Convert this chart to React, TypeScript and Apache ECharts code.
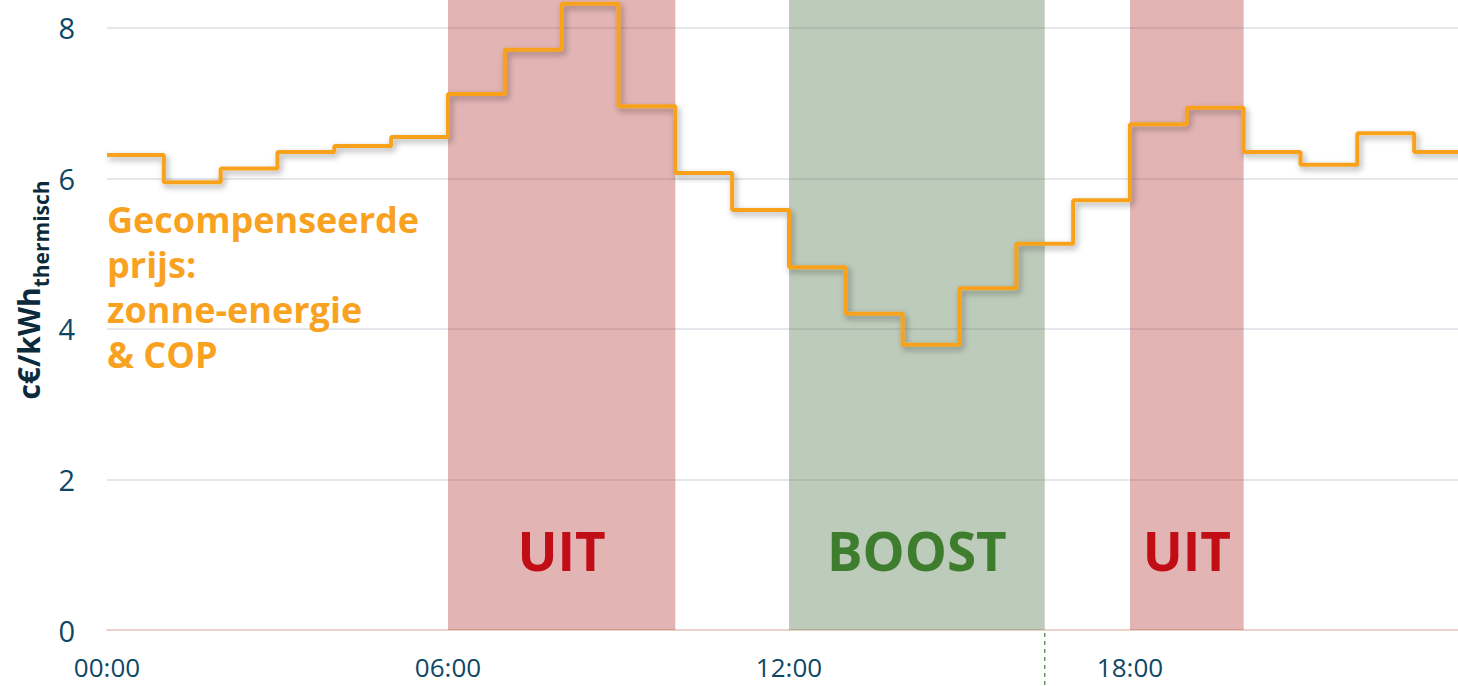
import React, { useEffect, useRef } from "react";
import * as echarts from "echarts";

const hours = [0, 1, 2, 3, 4, 5, 6, 7, 8, 9, 10, 11, 12, 13, 14, 15, 16, 17, 18, 19, 20, 21, 22, 23, 24];
const prices = [6.31, 5.95, 6.13, 6.35, 6.43, 6.55, 7.12, 7.71, 8.32, 6.96, 6.07, 5.58, 4.82, 4.2, 3.79, 4.54, 5.13, 5.71, 6.72, 6.94, 6.35, 6.18, 6.6, 6.35, 6.35];
const xTickLabels: Record<number, string> = { 0: "00:00", 6: "06:00", 12: "12:00", 18: "18:00" };
const yMin = 0;
const yMax = 8.37;
const yInterval = 2;
const uitBands = [
  [6, 10],
  [18, 20],
];
const boostBand = [12, 16.5];
const boostMarker = 16.5;
const seriesLabel = "Gecompenseerde\nprijs:\nzonne-energie\n& COP";
const yAxisUnit = "c€/kWh";
const yAxisSub = "thermisch";

const ORANGE = "#f8a21f";
const NAVY = "#0e4766";

export default function App() {
  const ref = useRef<HTMLDivElement>(null);
  useEffect(() => {
    if (!ref.current) return;
    const chart = echarts.init(ref.current, null, { renderer: "svg" });
    const markAreaData: any[] = [];
    uitBands.forEach((b) => {
      markAreaData.push([
        {
          xAxis: b[0],
          yAxis: yMin,
          itemStyle: { color: "rgba(180,51,51,0.37)" },
          label: { show: true, formatter: "UIT", color: "#c00d16" },
        },
        { xAxis: b[1], yAxis: yMax },
      ]);
    });
    markAreaData.push([
      {
        xAxis: boostBand[0],
        yAxis: yMin,
        itemStyle: { color: "rgba(90,125,83,0.4)" },
        label: { show: true, formatter: "BOOST", color: "#3f7d2e" },
      },
      { xAxis: boostBand[1], yAxis: yMax },
    ]);

    const option: any = {
      animation: false,
      textStyle: { fontFamily: "Open Sans" },
      grid: { left: 107, right: 0, top: 0, bottom: 56, containLabel: false },
      xAxis: {
        type: "value",
        min: 0,
        max: 24,
        interval: 6,
        axisLine: { show: true, lineStyle: { color: "#ead3c8", width: 2 } },
        axisTick: { show: false },
        splitLine: { show: false },
        axisLabel: {
          color: NAVY,
          fontSize: 26,
          lineHeight: 26,
          margin: 24,
          showMaxLabel: false,
          formatter: (v: number) => xTickLabels[v] ?? "",
        },
      },
      yAxis: {
        type: "value",
        min: yMin,
        max: yMax,
        interval: yInterval,
        axisLine: { show: false },
        axisTick: { show: false },
        splitLine: { show: true, showMaxLine: false, lineStyle: { color: "#e4e7ec", width: 2 } },
        axisLabel: { color: NAVY, fontSize: 29, margin: 32, showMaxLabel: false },
      },
      series: [
        {
          type: "line",
          step: "end",
          data: hours.map((h, i) => [h, prices[i]]),
          showSymbol: false,
          clip: false,
          lineStyle: {
            color: ORANGE,
            width: 4,
            shadowColor: "rgba(0,0,0,0.35)",
            shadowBlur: 6,
            shadowOffsetX: 2,
            shadowOffsetY: 3,
          },
          z: 5,
        },
        {
          type: "line",
          data: [],
          clip: false,
          z: 1,
          markArea: {
            silent: true,
            label: {
              position: "insideBottom",
              distance: 53,
              fontSize: 53,
              fontWeight: "bold",
              fontFamily: "Open Sans",
            },
            data: markAreaData,
          },
        },
      ],
      graphic: [
        {
          id: "seriesLabel",
          type: "text",
          left: 107,
          top: 197,
          style: {
            text: seriesLabel,
            fill: ORANGE,
            font: "bold 36px 'Open Sans'",
            lineHeight: 45,
          },
          z: 10,
        },
        {
          id: "yName",
          type: "text",
          x: 32,
          y: 290,
          rotation: Math.PI / 2,
          style: {
            text: `{a|${yAxisUnit}}{b|${yAxisSub}}`,
            align: "center",
            verticalAlign: "middle",
            rich: {
              a: { fontSize: 30, fontWeight: "bold", fill: "#0b2a3c", lineHeight: 38, verticalAlign: "top", fontFamily: "Open Sans" },
              b: { fontSize: 21, fontWeight: "bold", fill: "#0b2a3c", lineHeight: 20, verticalAlign: "bottom", fontFamily: "Open Sans" },
            },
          },
        },
      ],
    };
    chart.setOption(option);
    const p0 = chart.convertToPixel({ gridIndex: 0 }, [boostMarker, 0]) as number[];
    chart.setOption({
      graphic: [
        {
          id: "boostMarker",
          type: "line",
          shape: { x1: p0[0], y1: p0[1] + 3, x2: p0[0], y2: 686 },
          style: { stroke: "#6a9a5a", lineWidth: 1.5, lineDash: [4, 4] },
        },
      ],
    });
    return () => chart.dispose();
  }, []);
  return (
    <div style={{ position: "absolute", left: 0, top: 0, width: 1458, height: 686, overflow: "hidden", background: "#fff" }}>
      <div ref={ref} style={{ width: 1471, height: 686 }} />
    </div>
  );
}
